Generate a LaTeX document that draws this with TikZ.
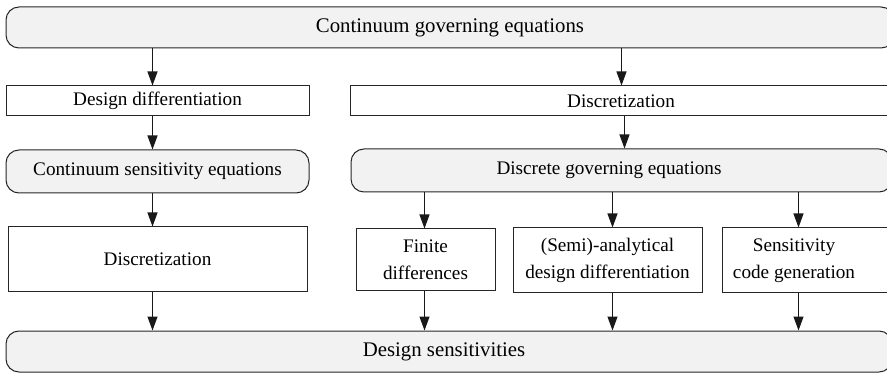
\documentclass[tikz,border=0pt]{standalone}
\usepackage{fontspec}
\setmainfont{Liberation Serif}
\usetikzlibrary{arrows.meta}
\begin{document}
\begin{tikzpicture}[x=0.5pt,y=-0.5pt,
  base/.style={draw=black!85,line width=0.5pt,inner sep=0pt,align=center,
    font=\fontsize{9.6}{13.5}\selectfont},
  sqbox/.style={base,rectangle,fill=white},
  rbox/.style={base,rectangle,rounded corners=6.5pt,fill=black!5},
  bigtext/.style={font=\fontsize{10.4}{12.5}\selectfont},
  arr/.style={draw=black!90,line width=0.55pt,-{Triangle[length=7pt,width=5pt]}}]
\clip (0,0) rectangle (887,373);
\fill[white] (0,0) rectangle (887,373);

% flow columns
\coordinate (cL) at (152.5,0);
\coordinate (cR1) at (621.5,0);
\coordinate (cR2) at (624.5,0);
\coordinate (cF) at (424.5,0);
\coordinate (cS) at (612.5,0);
\coordinate (cG) at (798.5,0);

% boxes
\node[rbox,bigtext,minimum width=444pt,minimum height=20.5pt] (top) at (450,27.5)
  {Continuum governing equations};
\node[sqbox,minimum width=151.5pt,minimum height=15pt] (dd) at (157.5,101)
  {Design differentiation};
\node[sqbox,minimum width=271pt,minimum height=15pt] (discR) at (621,101)
  {Discretization};
\node[rbox,minimum width=151.5pt,minimum height=21.5pt] (cse) at (157.5,171.5)
  {Continuum sensitivity equations};
\node[rbox,minimum width=270.5pt,minimum height=21.5pt,
  label={[base,draw=none,xshift=-6.25pt]center:Discrete governing equations}] (dge) at (621.5,170.5) {};
\node[sqbox,minimum width=149.5pt,minimum height=32.5pt] (discL) at (157.5,259.5)
  {Discretization};
\node[sqbox,minimum width=69.5pt,minimum height=31pt] (fd) at (425.5,260)
  {Finite\\differences};
\node[sqbox,minimum width=94.5pt,minimum height=32.5pt] (sa) at (607.5,260.5)
  {(Semi)-analytical\\design differentiation};
\node[sqbox,minimum width=89pt,minimum height=32.5pt,
  label={[base,draw=none,xshift=-8.5pt]center:Sensitivity\\code generation}] (scg) at (811,260.5) {};
\node[rbox,minimum width=443pt,minimum height=20.5pt,
  label={[base,bigtext,draw=none,xshift=-2.5pt]center:Design sensitivities}] (ds) at (449,351.5) {};

% connectors
\draw[arr] (top.south -| cL) -- (dd.north -| cL);
\draw[arr] (dd.south -| cL) -- (cse.north -| cL);
\draw[arr] (cse.south -| cL) -- (discL.north -| cL);
\draw[arr] (discL.south -| cL) -- (ds.north -| cL);
\draw[arr] (top.south -| cR1) -- (discR.north -| cR1);
\draw[arr] (discR.south -| cR2) -- (dge.north -| cR2);
\draw[arr] (dge.south -| cF) -- (fd.north -| cF);
\draw[arr] (dge.south -| cS) -- (sa.north -| cS);
\draw[arr] (dge.south -| cG) -- (scg.north -| cG);
\draw[arr] (fd.south -| cF) -- (ds.north -| cF);
\draw[arr] (sa.south -| cS) -- (ds.north -| cS);
\draw[arr] (scg.south -| cG) -- (ds.north -| cG);
\end{tikzpicture}
\end{document}
